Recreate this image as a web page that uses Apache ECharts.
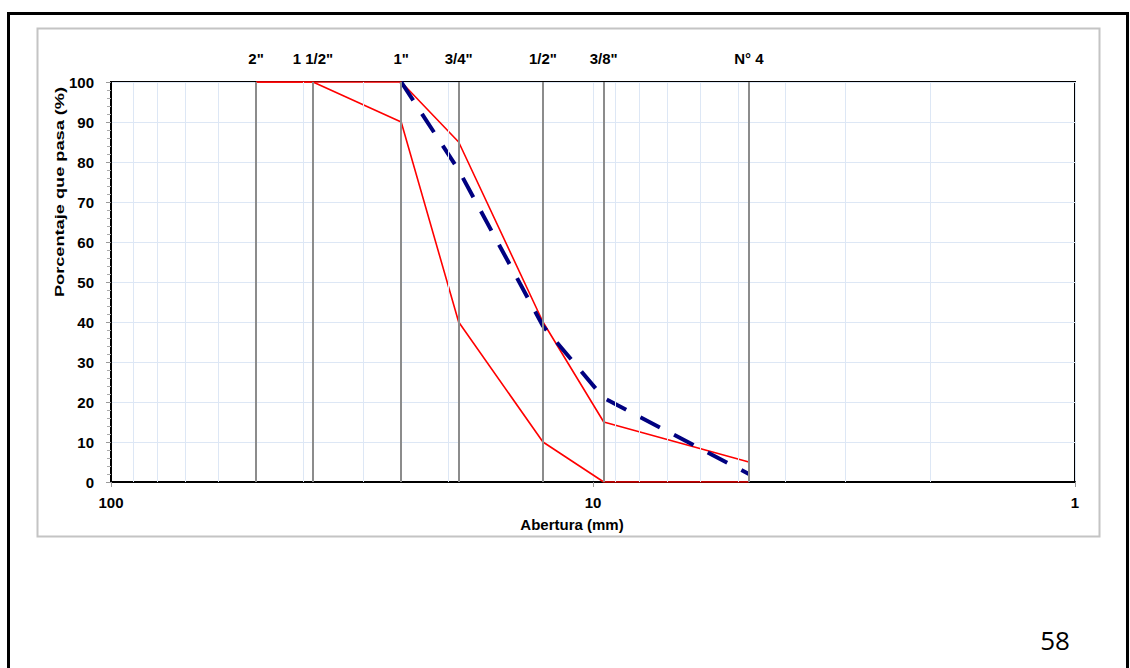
<!DOCTYPE html>
<html>
<head>
<meta charset="utf-8">
<script src="https://cdn.jsdelivr.net/npm/echarts@6/dist/echarts.min.js"></script>
<style>
html,body{margin:0;padding:0;background:#fff;}
#chart{width:1130px;height:668px;}
</style>
</head>
<body>
<div id="chart"></div>
<script>
// Sieves (mm) and their labels
const sieveLabels = ['2"', '1 1/2"', '1"', '3/4"', '1/2"', '3/8"', 'N° 4'];
const sieveSizes = [50, 38.1, 25, 19, 12.7, 9.5, 4.75];
// Gradation limits (% passing)
const upperLimit = [100, 100, 100, 85, 40, 15, 5];
const lowerLimit = [100, 100, 90, 40, 10, 0, 0];
// Sample curve (starts at 1")
const sampleSizes = [25, 19, 12.7, 9.5, 4.75];
const samplePass = [100, 78, 39, 21, 2];
// Log minor grid values
const minorGrid = [2, 3, 4, 5, 6, 7, 8, 9, 20, 30, 40, 50, 60, 70, 80, 90];
const pageNumber = '58';

const FONT = '"Liberation Sans", Arial, sans-serif';
const chart = echarts.init(document.getElementById('chart'), null, {renderer: 'svg'});

const option = {
  animation: false,
  backgroundColor: '#fff',
  grid: {left: 111, right: 55, top: 82, bottom: 186, show: true, borderColor: '#000', borderWidth: 2, backgroundColor: 'transparent', containLabel: false},
  xAxis: {
    type: 'log', logBase: 10, min: 1, max: 100, inverse: true,
    axisLine: {show: true, onZero: false, lineStyle: {color: '#000', width: 2}},
    axisTick: {show: true, length: 5, lineStyle: {color: '#999'}},
    axisLabel: {color: '#000', fontWeight: 'bold', fontSize: 15, fontFamily: FONT, margin: 13},
    splitLine: {show: true, lineStyle: {color: '#dde7f5', width: 1}}
  },
  yAxis: {
    type: 'value', min: 0, max: 100, interval: 10,
    axisLine: {show: true, lineStyle: {color: '#000', width: 2}},
    axisTick: {show: true, length: 5, lineStyle: {color: '#999'}},
    minorTick: {show: true, splitNumber: 5, length: 4, lineStyle: {color: '#aaa'}},
    axisLabel: {color: '#000', fontWeight: 'bold', fontSize: 15, fontFamily: FONT, margin: 17},
    splitLine: {show: true, lineStyle: {color: '#dde7f5', width: 1}}
  },
  series: [
    {
      name: 'grid', type: 'line', data: [], z: 1, silent: true,
      markLine: {
        silent: true, symbol: 'none', animation: false,
        lineStyle: {color: '#dde7f5', width: 1, type: 'solid'},
        label: {show: false},
        data: minorGrid.map(v => ({xAxis: v}))
      }
    },
    {
      name: 'sieves', type: 'line', data: [], z: 2, silent: true,
      markLine: {
        silent: true, symbol: 'none', animation: false,
        lineStyle: {color: '#8c8c8c', width: 2, type: 'solid'},
        label: {show: true, position: 'end', distance: 16, color: '#000', fontWeight: 'bold', fontSize: 15, fontFamily: FONT, formatter: p => p.name},
        emphasis: {disabled: true},
        data: sieveSizes.map((v, i) => ({xAxis: v, name: sieveLabels[i]}))
      }
    },
    {
      name: 'Límite superior', type: 'line', z: 3, symbol: 'none',
      lineStyle: {color: '#ff0000', width: 1.6},
      data: sieveSizes.map((v, i) => [v, upperLimit[i]])
    },
    {
      name: 'Límite inferior', type: 'line', z: 3, symbol: 'none',
      lineStyle: {color: '#ff0000', width: 1.6},
      data: sieveSizes.map((v, i) => [v, lowerLimit[i]])
    },
    {
      name: 'Muestra', type: 'line', z: 4, symbol: 'none',
      lineStyle: {color: '#000080', width: 4, type: [22, 16], cap: 'butt'},
      data: sampleSizes.map((v, i) => [v, samplePass[i]])
    }
  ],
  graphic: [
    {type: 'rect', z: -10, silent: true, shape: {x: 8.5, y: 13.5, width: 1119, height: 700}, style: {fill: 'none', stroke: '#000', lineWidth: 3}},
    {type: 'rect', z: -10, silent: true, shape: {x: 37.5, y: 28.5, width: 1062, height: 508}, style: {fill: 'none', stroke: '#c4c4c4', lineWidth: 2}},
    {type: 'text', silent: true, x: 59, y: 192, rotation: Math.PI / 2, scaleX: 1.4,
      style: {text: 'Porcentaje que pasa (%)', fill: '#000', font: 'bold 13px ' + FONT, textAlign: 'center', textVerticalAlign: 'middle'}},
    {type: 'text', silent: true, x: 572, y: 524,
      style: {text: 'Abertura (mm)', fill: '#000', font: 'bold 15px ' + FONT, textAlign: 'center', textVerticalAlign: 'middle'}},
    {type: 'text', silent: true, x: 1055, y: 640,
      style: {text: pageNumber, fill: '#000', font: '26px "Open Sans", "Noto Sans", sans-serif', textAlign: 'center', textVerticalAlign: 'middle'}}
  ]
};
chart.setOption(option);
</script>
</body>
</html>
